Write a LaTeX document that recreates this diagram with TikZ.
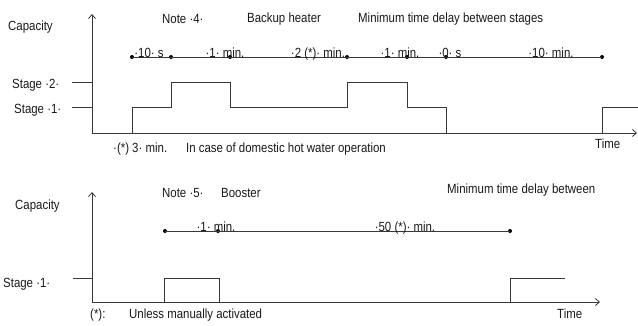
\documentclass[tikz,border=0pt]{standalone}
\usepackage{fontspec}
\setmainfont{Liberation Sans}[FakeStretch=0.86]
\usetikzlibrary{arrows.meta}
\begin{document}
\begin{tikzpicture}[x=1pt,y=-1pt,
  lbl/.style={font=\fontsize{13.3}{15}\selectfont, inner sep=0pt, text=black!90, anchor=base west},
  tl/.style={lbl, anchor=base},
  ln/.style={draw=black!78, line width=0.8pt},
  dotnode/.style={circle, fill=black, inner sep=0pt, minimum size=4pt},
  axis/.style={ln, -{Straight Barb[length=4pt,width=7pt]}}]
\useasboundingbox (0,0) rectangle (638,325);

% ---------- top diagram ----------
\coordinate (o1) at (92,133);
\coordinate (ytop1) at (92,14);
\coordinate (xend1) at (637,133);
\draw[axis] (o1) -- (ytop1);
\draw[axis] (o1) -- (xend1);
\coordinate (s2a) at (72,82); \coordinate (s2b) at (92,82);
\coordinate (s1a) at (72,107); \coordinate (s1b) at (92,107);
\draw[ln] (s2a) -- (s2b);
\draw[ln] (s1a) -- (s1b);

\coordinate (w0) at (132,133);
\coordinate (w1) at (132,107);
\coordinate (w2) at (171,107);
\coordinate (w3) at (171,82);
\coordinate (w4) at (230,82);
\coordinate (w5) at (230,107);
\coordinate (w6) at (347,107);
\coordinate (w7) at (347,82);
\coordinate (w8) at (407,82);
\coordinate (w9) at (407,107);
\coordinate (w10) at (446,107);
\coordinate (w11) at (446,133);
\draw[ln] (w0) -- (w1) -- (w2) -- (w3) -- (w4) -- (w5) -- (w6) -- (w7) -- (w8) -- (w9) -- (w10) -- (w11);
\coordinate (v0) at (602,133);
\coordinate (v1) at (602,107);
\coordinate (v2) at (638,107);
\draw[ln] (v0) -- (v1) -- (v2);

\node[dotnode] (t1) at (132,57) {};
\node[dotnode] (t2) at (171,57) {};
\node[dotnode] (t3) at (230,57) {};
\node[dotnode] (t4) at (347,57) {};
\node[dotnode] (t5) at (407,57) {};
\node[dotnode] (t6) at (446,57) {};
\node[dotnode] (t7) at (602,57) {};
\draw[ln] (t1.center) -- (t7.center);

\node[tl] (d1) at (149,57.5) {·10· s};
\node[tl] (d2) at (225,57.5) {·1· min.};
\node[tl] (d3) at (318,57.5) {·2 (*)· min.};
\node[tl] (d4) at (400,57.5) {·1· min.};
\node[tl] (d5) at (450,57.5) {·0· s};
\node[tl] (d6) at (551,57.5) {·10· min.};

\node[lbl] (cap1) at (8,30) {Capacity};
\node[lbl] (st2) at (12,88.5) {Stage ·2·};
\node[lbl] (st1) at (14,113) {Stage ·1·};
\node[lbl] (note4) at (162,23) {Note ·4·};
\node[lbl] (bh) at (247,22.5) {Backup heater};
\node[lbl] (mtd1) at (358,22.5) {Minimum time delay between stages};
\node[lbl] (star3) at (113,152.5) {·(*) 3· min.};
\node[lbl] (dhw) at (186,152.5) {In case of domestic hot water operation};
\node[lbl] (time1) at (595,148) {Time};

% ---------- bottom diagram ----------
\coordinate (o2) at (92,302);
\coordinate (ytop2) at (92,192);
\coordinate (xend2) at (600,302);
\draw[axis] (o2) -- (ytop2);
\draw[axis] (o2) -- (xend2);
\coordinate (b1a) at (73,278); \coordinate (b1b) at (92,278);
\draw[ln] (b1a) -- (b1b);

\coordinate (p0) at (164,302);
\coordinate (p1) at (164,278);
\coordinate (p2) at (219,278);
\coordinate (p3) at (219,302);
\draw[ln] (p0) -- (p1) -- (p2) -- (p3);
\coordinate (q0) at (510,302);
\coordinate (q1) at (510,278);
\coordinate (q2) at (565,278);
\draw[ln] (q0) -- (q1) -- (q2);

\node[dotnode] (u1) at (165,231) {};
\node[dotnode] (u2) at (218,231) {};
\node[dotnode] (u3) at (510,231) {};
\draw[ln] (u1.center) -- (u3.center);

\node[tl] (e1) at (216,231.5) {·1· min.};
\node[tl] (e2) at (405,231.5) {·50 (*)· min.};

\node[lbl] (note5) at (162,197.5) {Note ·5·};
\node[lbl] (boost) at (221,197) {Booster};
\node[lbl] (mtd2) at (447,193) {Minimum time delay between};
\node[lbl] (cap2) at (15,209.5) {Capacity};
\node[lbl] (st1b) at (3,287) {Stage ·1·};
\node[lbl] (star) at (90,318) {(*):};
\node[lbl] (uma) at (129,318) {Unless manually activated};
\node[lbl] (time2) at (557,318) {Time};
\end{tikzpicture}
\end{document}
